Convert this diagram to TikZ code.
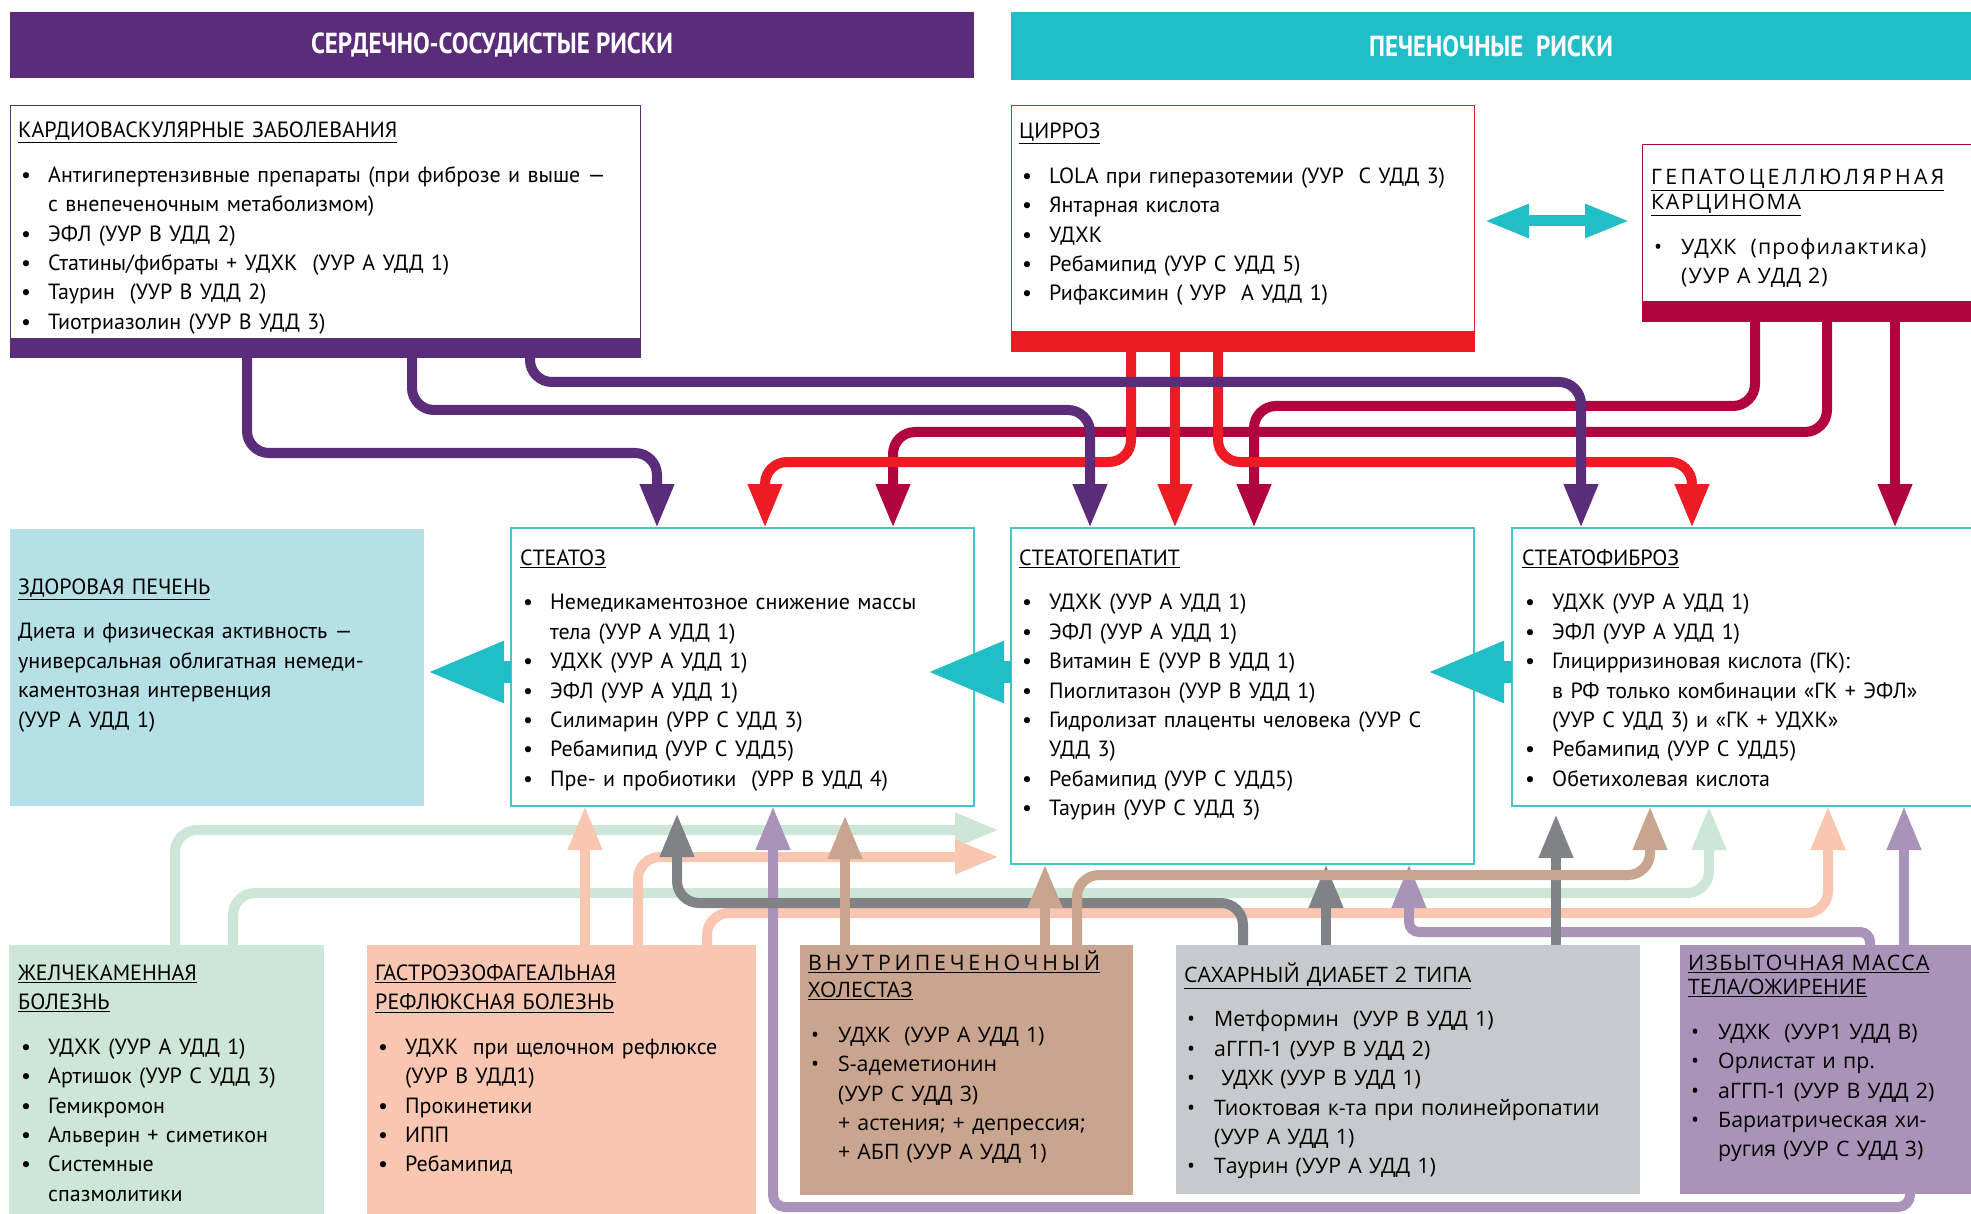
\documentclass[tikz,border=0pt]{standalone}
\usepackage{fontspec}
\setmainfont{PT Sans}
\newfontfamily\osans{Open Sans}
\newfontfamily\headfont[FakeStretch=0.86]{PT Sans}
\usetikzlibrary{arrows.meta}

\definecolor{cvpurple}{HTML}{5B2C7A}
\definecolor{livteal}{HTML}{21BEC7}
\definecolor{cirred}{HTML}{ED1C24}
\definecolor{hccred}{HTML}{B1043F}
\definecolor{healblue}{HTML}{B4E0E6}
\definecolor{gallgreen}{HTML}{CDE6D6}
\definecolor{gerdpeach}{HTML}{F9C6B1}
\definecolor{choltan}{HTML}{C9A48E}
\definecolor{diabgray}{HTML}{C8C9CB}
\definecolor{diabdark}{HTML}{808285}
\definecolor{obeslilac}{HTML}{AA93B9}
\definecolor{boxteal}{HTML}{45C6CD}

\newcommand{\bodyfont}{\fontsize{22}{29.4}\selectfont}
\newcommand{\osfont}{\osans\fontsize{21.3}{29.4}\selectfont}
\newcommand{\ttl}[1]{#1\par\vspace{15pt}}
\newcommand{\itm}[1]{\par\hangindent=30pt\hangafter=1\noindent\hspace*{3pt}\makebox[27pt][l]{\textbullet}{\let\\\newline#1}}
\newcommand{\ul}[1]{\underline{#1}}

\begin{document}
\begin{tikzpicture}[x=1pt,y=-1pt,
    riskbox/.style={anchor=north west, inner sep=0pt, outer sep=0pt},
    boxtext/.style={anchor=base west, inner sep=0pt, text width=#1, align=left, font=\bodyfont},
    conn/.style={line width=10pt, rounded corners=22pt, -{Triangle[length=44pt,width=32pt]}},
    sidearr/.style={livteal, line width=22pt, -{Triangle[length=78pt,width=56pt]}},
    dblarr/.style={livteal, line width=11pt, {Triangle[length=45pt,width=31pt]}-{Triangle[length=45pt,width=31pt]}}]
    \useasboundingbox (0,0) rectangle (1971,1214);
    \fill[white] (0,0) rectangle (1971,1214);

    % headers
    \node[riskbox, fill=cvpurple, minimum width=964pt, minimum height=66pt, text=white,
        font=\headfont\bfseries\fontsize{29}{30}\selectfont] (cvhead) at (10,12) {СЕРДЕЧНО-СОСУДИСТЫЕ РИСКИ};
    \node[riskbox, fill=livteal, minimum width=960pt, minimum height=68pt, text=white,
        font=\headfont\bfseries\fontsize{29}{30}\selectfont] (livhead) at (1011,12) {ПЕЧЕНОЧНЫЕ\ \ РИСКИ};

    % boxes
    \node[riskbox, draw=cvpurple, line width=1pt, minimum width=630pt, minimum height=252pt] (kard) at (10,106) {};
    \fill[cvpurple] (kard.south west) rectangle ([yshift=20pt]kard.south east);
    \node[riskbox, draw=cirred, line width=1pt, minimum width=463pt, minimum height=246pt] (cirr) at (1011,106) {};
    \fill[cirred] (cirr.south west) rectangle ([yshift=21pt]cirr.south east);
    \node[riskbox, draw=hccred, line width=1pt, minimum width=329pt, minimum height=177pt] (hcc) at (1642,145) {};
    \fill[hccred] (hcc.south west) rectangle ([yshift=21pt]hcc.south east);

    \node[riskbox, fill=healblue, minimum width=414pt, minimum height=277pt] (heal) at (10,529) {};
    \node[riskbox, draw=boxteal, line width=1.2pt, minimum width=463pt, minimum height=278pt] (steat) at (511,528) {};
    \node[riskbox, draw=boxteal, line width=1.2pt, minimum width=463pt, minimum height=336pt] (nash) at (1011,528) {};
    \node[riskbox, draw=boxteal, line width=1.2pt, minimum width=470pt, minimum height=278pt] (fibr) at (1512,528) {};

    \node[riskbox, fill=gallgreen, minimum width=315pt, minimum height=269pt] (gall) at (9,945) {};
    \node[riskbox, fill=gerdpeach, minimum width=389pt, minimum height=269pt] (gerd) at (367,945) {};
    \node[riskbox, fill=choltan, minimum width=333pt, minimum height=250pt] (chol) at (800,945) {};
    \node[riskbox, fill=diabgray, minimum width=464pt, minimum height=249pt] (diab) at (1176,945) {};
    \node[riskbox, fill=obeslilac, minimum width=291pt, minimum height=249pt] (obes) at (1680,945) {};

    % arrows from above
    \draw[conn, hccred] ([xshift=113pt]hcc.south west) |- (1254,406) -- ([xshift=243pt]nash.north west);
    \draw[conn, hccred] ([xshift=185pt]hcc.south west) |- (893,432) -- ([xshift=382pt]steat.north west);
    \draw[conn, hccred] ([xshift=253pt]hcc.south west) -- ([xshift=383pt]fibr.north west);
    \draw[conn, cirred] ([xshift=120pt]cirr.south west) |- (765,462) -- ([xshift=254pt]steat.north west);
    \draw[conn, cirred] ([xshift=164pt]cirr.south west) -- ([xshift=164pt]nash.north west);
    \draw[conn, cirred] ([xshift=207pt]cirr.south west) |- (1692,462) -- ([xshift=180pt]fibr.north west);
    \draw[conn, cvpurple] ([xshift=237pt]kard.south west) |- (657,453) -- ([xshift=146pt]steat.north west);
    \draw[conn, cvpurple] ([xshift=402pt]kard.south west) |- (1090,410) -- ([xshift=79pt]nash.north west);
    \draw[conn, cvpurple] ([xshift=520pt]kard.south west) |- (1581,382) -- ([xshift=69pt]fibr.north west);

    % arrows from below
    \coordinate (gallend) at (999,830);
    \coordinate (gerdend) at (999,857);
    \draw[conn, gallgreen] ([xshift=166pt]gall.north west) |- (gallend);
    \draw[conn, gallgreen] ([xshift=224pt]gall.north west) |- (1709,893) -- ([xshift=197pt]fibr.south west);
    \draw[conn, gerdpeach] ([xshift=218pt]gerd.north west) -- ([xshift=74pt]steat.south west);
    \draw[conn, gerdpeach] ([xshift=271pt]gerd.north west) |- (gerdend);
    \draw[conn, gerdpeach] ([xshift=340pt]gerd.north west) |- (1828,913) -- ([xshift=316pt]fibr.south west);
    \draw[conn, obeslilac, rounded corners=10pt] ([xshift=190pt]obes.north west) |- (1409,932) -- ([xshift=398pt]nash.south west);
    \draw[conn, obeslilac] ([xshift=224pt]obes.north west) -- ([xshift=392pt]fibr.south west);
    \draw[conn, obeslilac, rounded corners=12pt] ([xshift=230pt]obes.south west) |- (773,1207) -- ([xshift=262pt]steat.south west);
    \draw[conn, diabdark, shorten >=7pt] ([xshift=67pt]diab.north west) |- (677,903) -- ([xshift=166pt]steat.south west);
    \draw[conn, diabdark] ([xshift=150pt]diab.north west) -- ([xshift=315pt]nash.south west);
    \draw[conn, diabdark, shorten >=8pt] ([xshift=380pt]diab.north west) -- ([xshift=44pt]fibr.south west);
    \draw[conn, choltan, shorten >=9pt] ([xshift=45pt]chol.north west) -- ([xshift=334pt]steat.south west);
    \draw[conn, choltan] ([xshift=245pt]chol.north west) -- ([xshift=34pt]nash.south west);
    \draw[conn, choltan] ([xshift=277pt]chol.north west) |- (1650,875) -- ([xshift=138pt]fibr.south west);

    % teal arrows
    \draw[sidearr] ([yshift=-5pt]steat.west) -- ++(-85,0);
    \draw[sidearr] ([yshift=-5pt]nash.west |- steat.west) -- ++(-85,0);
    \draw[sidearr] ([yshift=-5pt]fibr.west) -- ++(-86,0);
    \draw[dblarr] ([shift={(10,115)}]cirr.north east) -- ([shift={(-12,76)}]hcc.north west);

    % texts
    \node[boxtext=615pt] (kardtxt) at ([shift={(8,32)}]kard.north west) {\ttl{\ul{КАРДИОВАСКУЛЯРНЫЕ ЗАБОЛЕВАНИЯ}}
        \itm{Антигипертензивные препараты (при фиброзе и выше —\\с внепеченочным метаболизмом)}
        \itm{ЭФЛ (УУР В УДД 2)}
        \itm{Статины/фибраты + УДХК \ (УУР А УДД 1)}
        \itm{Таурин \ (УУР В УДД 2)}
        \itm{Тиотриазолин (УУР В УДД 3)}\par};
    \node[boxtext=450pt] (cirrtxt) at ([shift={(8,33)}]cirr.north west) {\ttl{\ul{ЦИРРОЗ}}
        \itm{LOLA при гиперазотемии (УУР \ С УДД 3)}
        \itm{Янтарная кислота}
        \itm{УДХК}
        \itm{Ребамипид (УУР С УДД 5)}
        \itm{Рифаксимин ( УУР \ А УДД 1)}\par};
    \node[boxtext=330pt, font=\osfont] (hcctxt) at ([shift={(9,39.5)}]hcc.north west) {\ttl{{\addfontfeature{LetterSpace=15}\ul{ГЕПАТОЦЕЛЛЮЛЯРНАЯ}}\\[-4pt]{\addfontfeature{LetterSpace=8}\ul{КАРЦИНОМА}}}
        \addfontfeature{LetterSpace=5}\itm{УДХК \ (профилактика)\\(УУР А УДД 2)}\par};
    \node[boxtext=405pt] (healtxt) at ([shift={(8,65.5)}]heal.north west) {\ttl{\ul{ЗДОРОВАЯ ПЕЧЕНЬ}}
        Диета и физическая активность —\\универсальная облигатная немеди-\\каментозная интервенция\\(УУР А УДД 1)\par};
    \node[boxtext=450pt] (steattxt) at ([shift={(9,37.5)}]steat.north west) {\ttl{\ul{СТЕАТОЗ}}
        \itm{Немедикаментозное снижение массы\\тела (УУР А УДД 1)}
        \itm{УДХК (УУР А УДД 1)}
        \itm{ЭФЛ (УУР А УДД 1)}
        \itm{Силимарин (УРР С УДД 3)}
        \itm{Ребамипид (УУР С УДД5)}
        \itm{Пре- и пробиотики \ (УРР В УДД 4)}\par};
    \node[boxtext=455pt] (nashtxt) at ([shift={(8,37.5)}]nash.north west) {\ttl{\ul{СТЕАТОГЕПАТИТ}}
        \itm{УДХК (УУР А УДД 1)}
        \itm{ЭФЛ (УУР А УДД 1)}
        \itm{Витамин Е (УУР В УДД 1)}
        \itm{Пиоглитазон (УУР В УДД 1)}
        \itm{Гидролизат плаценты человека (УУР С\\УДД 3)}
        \itm{Ребамипид (УУР С УДД5)}
        \itm{Таурин (УУР С УДД 3)}\par};
    \node[boxtext=450pt] (fibrtxt) at ([shift={(10,37.5)}]fibr.north west) {\ttl{\ul{СТЕАТОФИБРОЗ}}
        \itm{УДХК (УУР А УДД 1)}
        \itm{ЭФЛ (УУР А УДД 1)}
        \itm{Глицирризиновая кислота (ГК):\\в РФ только комбинации «ГК + ЭФЛ»\\(УУР С УДД 3) и «ГК + УДХК»}
        \itm{Ребамипид (УУР С УДД5)}
        \itm{Обетихолевая кислота}\par};
    \node[boxtext=300pt] (galltxt) at ([shift={(9,35.5)}]gall.north west) {\ttl{\ul{ЖЕЛЧЕКАМЕННАЯ}\\\ul{БОЛЕЗНЬ}}
        \itm{УДХК (УУР А УДД 1)}
        \itm{Артишок (УУР С УДД 3)}
        \itm{Гемикромон}
        \itm{Альверин + симетикон}
        \itm{Системные\\спазмолитики}\par};
    \node[boxtext=375pt] (gerdtxt) at ([shift={(8,35.5)}]gerd.north west) {\ttl{\ul{ГАСТРОЭЗОФАГЕАЛЬНАЯ}\\\ul{РЕФЛЮКСНАЯ БОЛЕЗНЬ}}
        \itm{УДХК \ при щелочном рефлюксе\\(УУР В УДД1)}
        \itm{Прокинетики}
        \itm{ИПП}
        \itm{Ребамипид}\par};
    \node[boxtext=325pt, font=\osfont] (choltxt) at ([shift={(8,25.5)}]chol.north west) {\ttl{{\addfontfeature{LetterSpace=18}\ul{ВНУТРИПЕЧЕНОЧНЫЙ}}\\[-2pt]\ul{ХОЛЕСТАЗ}}
        \itm{УДХК \ (УУР А УДД 1)}
        \itm{S-адеметионин\\(УУР С УДД 3)\\+ астения; + депрессия;\\+ АБП (УУР А УДД 1)}\par};
    \node[boxtext=455pt, font=\osfont] (diabtxt) at ([shift={(8,37.5)}]diab.north west) {\ttl{\ul{САХАРНЫЙ ДИАБЕТ 2 ТИПА}}
        \itm{Метформин \ (УУР В УДД 1)}
        \itm{аГГП-1 (УУР В УДД 2)}
        \itm{\ УДХК (УУР В УДД 1)}
        \itm{Тиоктовая к-та при полинейропатии\\(УУР А УДД 1)}
        \itm{Таурин (УУР А УДД 1)}\par};
    \node[boxtext=285pt, font=\osfont] (obestxt) at ([shift={(8,25.5)}]obes.north west) {\ttl{{\addfontfeature{LetterSpace=6}\ul{ИЗБЫТОЧНАЯ МАССА}}\\[-5pt]\ul{ТЕЛА/ОЖИРЕНИЕ}}
        \itm{УДХК \ (УУР1 УДД В)}
        \itm{Орлистат и пр.}
        \itm{аГГП-1 (УУР В УДД 2)}
        \itm{Бариатрическая хи-\\ругия (УУР С УДД 3)}\par};
\end{tikzpicture}
\end{document}
